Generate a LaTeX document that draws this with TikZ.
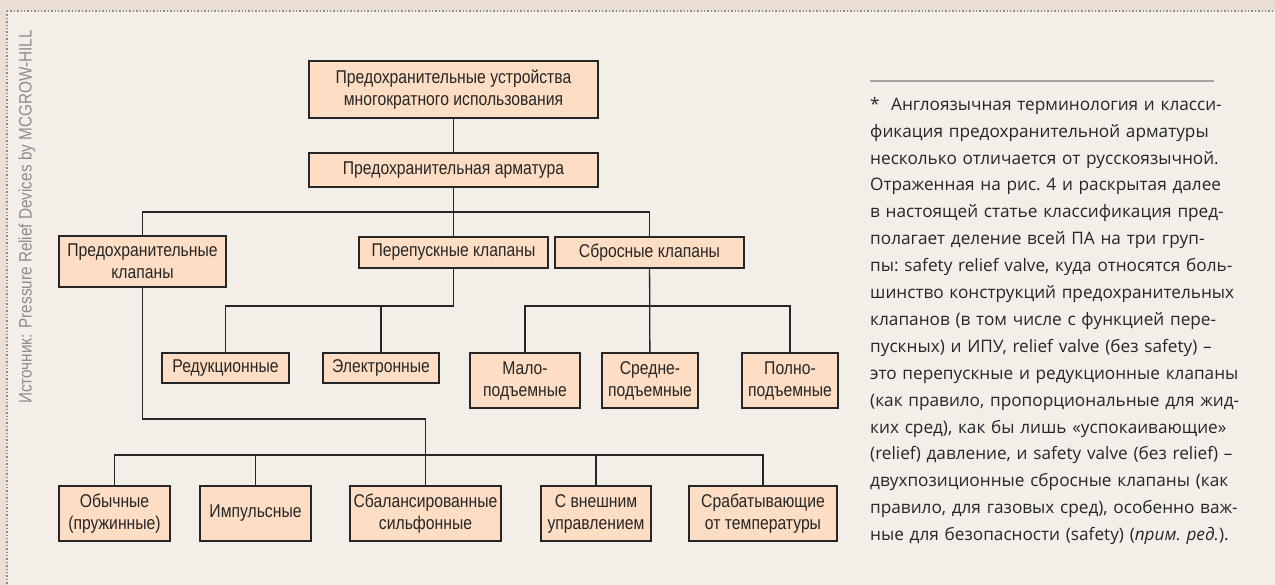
\documentclass[tikz,border=0pt]{standalone}
\usepackage{fontspec}
\usepackage{tikz}
\newfontfamily\boxfont[FakeStretch=0.85]{Liberation Sans}
\newfontfamily\notefont{Open Sans}
\definecolor{bandcol}{HTML}{EBDFD3}
\definecolor{paper}{HTML}{F3EFE8}
\definecolor{boxfill}{HTML}{FDDDC3}
\definecolor{ink}{HTML}{262626}
\definecolor{dotcol}{HTML}{8C8C8C}
\newcommand\tline[1]{\makebox[344pt][s]{#1}\\}

\begin{document}
\begin{tikzpicture}[x=1pt,y=-1pt,
    box/.style={draw=ink, fill=boxfill, line width=1.2pt, inner sep=0pt,
        align=center, font=\boxfont\fontsize{18.5}{22}\selectfont, text=ink},
    link/.style={draw=ink, line width=1.3pt}]
    \useasboundingbox (0,0) rectangle (1275,585);
    % page
    \fill[bandcol] (0,0) rectangle (1275,585);
    \fill[paper] (7,11) rectangle (1275,585);
    \draw[dotcol, line width=1.3pt, dash pattern=on 1.4pt off 2pt] (7,11) -- (1275,11);
    \draw[dotcol, line width=1.3pt, dash pattern=on 1.4pt off 2pt] (7,11) -- (7,585);
    \node[rotate=90, text=dotcol, font=\boxfont\fontsize{18}{20}\selectfont]
        (src) at (27,217) {Источник: Pressure Relief Devices by MCGROW-HILL};

    % tree
    \node[box, minimum width=289pt, minimum height=57pt] (top) at (453.5,89.5)
        {Предохранительные устройства\\многократного использования};
    \node[box, minimum width=289pt, minimum height=34pt] (arm) at (453.5,170)
        {Предохранительная арматура};
    \node[box, minimum width=167pt, minimum height=51pt] (pk) at (142.5,261.5)
        {Предохранительные\\клапаны};
    \node[box, minimum width=189pt, minimum height=31pt] (per) at (453.5,252.5)
        {Перепускные клапаны};
    \node[box, minimum width=189pt, minimum height=31pt] (sbr) at (649.5,252.5)
        {Сбросные клапаны};
    \node[box, minimum width=127pt, minimum height=30pt] (red) at (225.5,368) {Редукционные};
    \node[box, minimum width=116pt, minimum height=30pt] (ele) at (381,368) {Электронные};
    \node[box, minimum width=110pt, minimum height=55pt] (mal) at (525,380.5) {Мало-\\подъемные};
    \node[box, minimum width=96pt, minimum height=55pt] (sre) at (650,380.5) {Средне-\\подъемные};
    \node[box, minimum width=96pt, minimum height=55pt] (pol) at (790,380.5) {Полно-\\подъемные};
    \node[box, minimum width=111pt, minimum height=55pt] (obi) at (114.5,513.5) {Обычные\\(пружинные)};
    \node[box, minimum width=111pt, minimum height=55pt] (imp) at (255.5,513.5) {Импульсные};
    \node[box, minimum width=151pt, minimum height=55pt] (sbal) at (425.5,513.5) {Сбалансированные\\сильфонные};
    \node[box, minimum width=110pt, minimum height=55pt] (vne) at (596,513.5) {С внешним\\управлением};
    \node[box, minimum width=148pt, minimum height=55pt] (srab) at (763,513.5) {Срабатывающие\\от температуры};

    \coordinate (j1) at (453.5,212);
    \coordinate (j2) at (453.5,306);
    \coordinate (j3) at (650,306);
    \coordinate (j4) at (425.5,419);
    \coordinate (j5) at (425.5,455);
    \draw[link] (top) -- (arm);
    \draw[link] (arm) -- (per);
    \draw[link] (per) -- (j2);
    \draw[link] (sbr) -- (sre);
    \draw[link] (pk.south) |- (j4) -- (j5);
    \foreach \from/\to in {j1/pk, j1/sbr, j2/red, j2/ele, j3/mal, j3/pol,
        j5/obi, j5/imp, j5/sbal, j5/vne, j5/srab}
        \draw[link] (\from) -| (\to.north);

    % note
    \draw[dotcol!80, line width=1.2pt] (870,81) -- (1214,81);
    \node[anchor=north west, inner sep=0pt, text width=344pt, align=left, text=ink,
        font=\notefont\fontsize{17.2}{26.9}\selectfont\frenchspacing] (note) at (870,97) {%
        \tline{*\ \ Англоязычная терминология и класси-}
        \tline{фикация предохранительной арматуры}
        \tline{несколько отличается от русскоязычной.}
        \tline{Отраженная на рис. 4 и раскрытая далее}
        \tline{в настоящей статье классификация пред-}
        \tline{полагает деление всей ПА на три груп-}
        \tline{пы: safety relief valve, куда относятся боль-}
        \tline{шинство конструкций предохранительных}
        \tline{клапанов (в том числе с функцией пере-}
        \tline{пускных) и ИПУ, relief valve (без safety) –}
        \tline{это перепускные и редукционные клапаны}
        \tline{(как правило, пропорциональные для жид-}
        \tline{ких сред), как бы лишь «успокаивающие»}
        \tline{(relief) давление, и safety valve (без relief) –}
        \tline{двухпозиционные сбросные клапаны (как}
        \tline{правило, для газовых сред), особенно важ-}
        \mbox{ные для безопасности (safety) (\textit{прим. ред.}).}};
\end{tikzpicture}
\end{document}
